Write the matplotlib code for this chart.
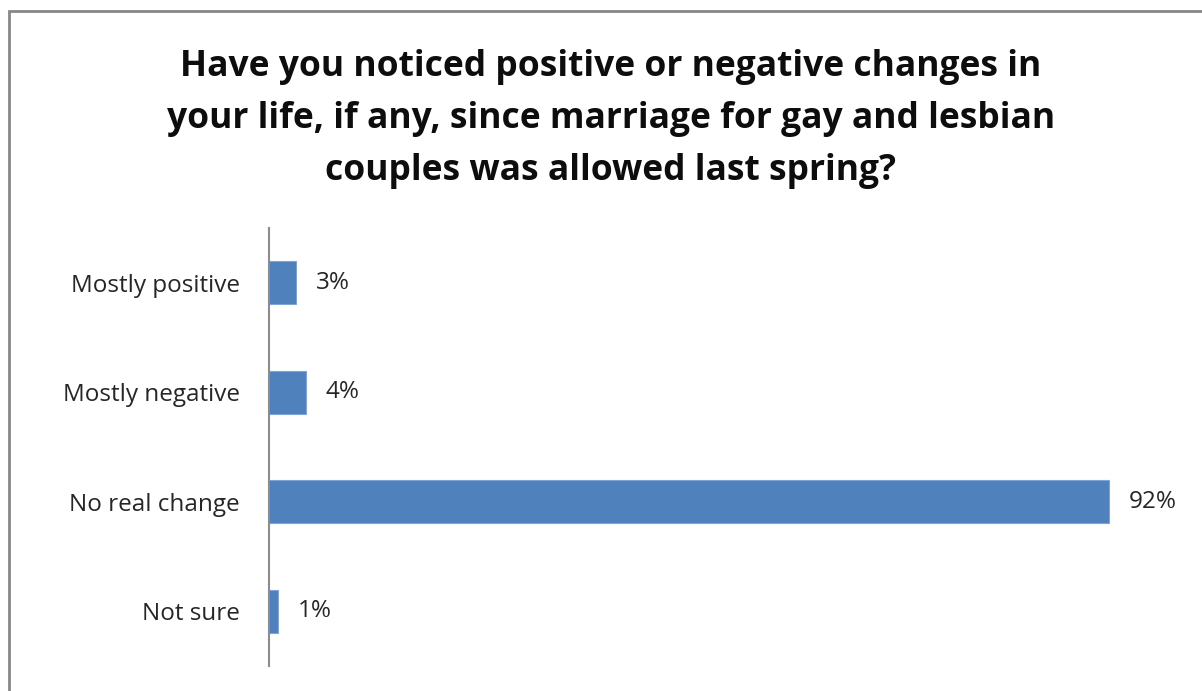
import matplotlib.pyplot as plt
from matplotlib.patches import Rectangle

categories = ["Mostly positive", "Mostly negative", "No real change", "Not sure"]
values = [3, 4, 92, 1]
value_labels = ["3%", "4%", "92%", "1%"]

title = ("Have you noticed positive or negative changes in\n"
         "your life, if any, since marriage for gay and lesbian\n"
         "couples was allowed last spring?")

plt.rcParams["font.family"] = ["Open Sans", "DejaVu Sans"]

fig = plt.figure(figsize=(12.02, 6.91), dpi=100)
# grey frame round the chart area
fig.patches.append(Rectangle((9 / 1202, -0.01), 1.0, 1 - 11 / 691 + 0.01,
                             transform=fig.transFigure, fill=False,
                             edgecolor="#878787", linewidth=2))

ax = fig.add_axes([269 / 1202, 25 / 691, 990 / 1202, 438 / 691])
y = list(range(len(categories)))
ax.barh(y, values, height=0.39, color="#4F81BD", edgecolor="#7FA5D6", linewidth=0.8)
px_per_unit = 840 / 92
for yi, v, lab in zip(y, values, value_labels):
    ax.text(v + 20 / px_per_unit, yi, lab, va="center", ha="left",
            fontsize=17.5, color="#262626")

ax.set_ylim(3.5, -0.5)
ax.set_xlim(0, 990 / px_per_unit)
ax.set_yticks(y)
ax.set_yticklabels(categories, fontsize=17.5, color="#262626")
ax.tick_params(axis="y", length=0, pad=21)
ax.set_xticks([])
for s in ["top", "right", "bottom"]:
    ax.spines[s].set_visible(False)
ax.spines["left"].set_color("#8C8C8C")
ax.spines["left"].set_linewidth(1.5)

fig.text(0.508, 1 - 49 / 691, title, ha="center", va="top", fontsize=25.5,
         fontweight="bold", linespacing=1.6, color="#0D0D0D")

fig.savefig("out.png", dpi=100)
